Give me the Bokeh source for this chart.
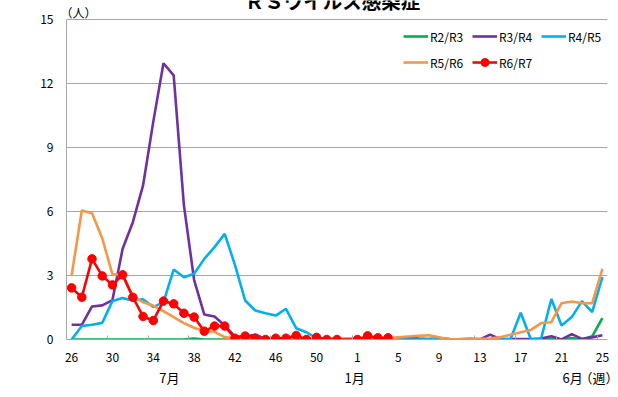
from bokeh.plotting import figure
from bokeh.models import Range1d, FixedTicker, Label, Legend, LegendItem, LinearAxis
from bokeh.embed import file_html
from bokeh.resources import INLINE

# ---- data -------------------------------------------------------------
WEEKS = [26, 27, 28, 29, 30, 31, 32, 33, 34, 35, 36, 37, 38, 39, 40, 41, 42, 43,
         44, 45, 46, 47, 48, 49, 50, 51, 52, 53,
         1, 2, 3, 4, 5, 6, 7, 8, 9, 10, 11, 12, 13, 14, 15, 16, 17, 18, 19, 20,
         21, 22, 23, 24, 25]
LABEL_WEEKS = [26, 30, 34, 38, 42, 46, 50, 1, 5, 9, 13, 17, 21, 25]
Y_TICKS = [0, 3, 6, 9, 12, 15]
MONTH_LABELS = ["7月", "1月", "6月", "（週）"]
N = None

R2_R3 = [0, 0, 0, 0, 0, 0, 0, 0, 0, 0, 0, 0, 0.05, 0, 0, 0, 0, 0,
         0, 0, 0, 0, 0, 0, 0, 0, 0, 0,
         0, 0, 0, 0, 0, 0, 0, 0, 0, 0, 0, 0, 0, 0, 0, 0, 0, 0, 0, 0.03,
         0, 0.07, 0, 0.15, 1.0]
R3_R4 = [0.69, 0.69, 1.55, 1.6, 1.85, 4.25, 5.5, 7.22, 10.2, 12.95, 12.38, 6.3, 2.8, 1.17, 1.08, 0.66, 0.14, 0.15,
         0.22, 0.03, 0.02, 0.02, 0, 0, 0, 0, 0, N,
         0, 0, 0, 0, 0.05, 0.1, 0.05, 0.02, 0.05, 0.02, 0, 0, 0, 0.23, 0.02, 0.02, 0.02, 0.02, 0.05, 0.15,
         0, 0.25, 0.03, 0.1, 0.2]
R4_R5 = [0, 0.63, 0.69, 0.78, 1.8, 1.94, 1.83, 1.88, 1.52, 1.75, 3.28, 2.92, 3.08, 3.78, 4.33, 4.95, 3.5, 1.83,
         1.36, 1.23, 1.12, 1.44, 0.53, 0.34, 0.05, 0.05, 0.03, N,
         0.03, 0.02, 0.02, 0, 0, 0, 0, 0.02, 0.05, 0.02, 0, 0, 0, 0, 0, 0.02, 1.25, 0, 0.05, 1.9,
         0.66, 1.05, 1.8, 1.28, 2.92]
R5_R6 = [3.0, 6.05, 5.92, 4.75, 3.05, 3.05, 2.02, 1.75, 1.59, 1.33, 1.05, 0.77, 0.55, 0.4, 0.36, 0.11, 0.03, 0.03,
         0.03, 0.03, 0.03, 0.03, 0.03, 0.03, 0.03, 0.03, 0.03, N,
         0.03, 0.05, 0.05, 0.06, 0.1, 0.14, 0.17, 0.2, 0.11, 0, 0.02, 0.06, 0.03, 0.05, 0.11, 0.22, 0.34, 0.45, 0.77, 0.81,
         1.7, 1.78, 1.7, 1.7, 3.31]
R6_R7 = [2.42, 1.98, 3.78, 2.98, 2.56, 3.03, 1.98, 1.08, 0.89, 1.8, 1.67, 1.23, 1.05, 0.39, 0.63, 0.63, 0.06, 0.16,
         0.06, 0, 0.06, 0.06, 0.19, 0, 0.1, 0, 0, N,
         0, 0.17, 0.08, 0.08, N, N, N, N, N, N, N, N, N, N, N, N, N, N, N, N,
         N, N, N, N, N]

SERIES = ["R2/R3", "R3/R4", "R4/R5", "R5/R6", "R6/R7"]
COLORS = ["#00B050", "#7030A0", "#00B0F0", "#F79646", "#FF0000"]
VALUES = [R2_R3, R3_R4, R4_R5, R5_R6, R6_R7]

FONT = "Noto Sans CJK JP"
GRID = "#A6A6A6"

# ---- layout constants (page pixels) --------------------------------------
W, H = 618, 397
FL, FR, FB = 66, 11, 339          # frame left, right border, frame bottom
TOP15 = 19                         # page y of the "15" gridline
y_top = Y_TICKS[-1] + TOP15 * Y_TICKS[-1] / (FB - TOP15)   # frame reaches canvas top

# month-label anchor positions on the week axis (layout only)
MONTH_POS = [9.58, 27.73, 49.09, len(WEEKS) - 0.5]

# ---- figure -----------------------------------------------------------
p = figure(width=W, height=H, output_backend="svg", toolbar_location=None,
           x_range=Range1d(-0.5, len(WEEKS) - 0.5), y_range=Range1d(0, y_top),
           min_border_left=FL, min_border_right=FR, min_border_top=0,
           min_border_bottom=H - FB)
p.title.visible = False
p.outline_line_color = None
p.background_fill_color = "white"
p.border_fill_color = "white"

p.xgrid.visible = False
p.ygrid.grid_line_color = GRID
p.ygrid.grid_line_width = 1

pos = {w: i for i, w in enumerate(WEEKS)}
label_pos = [pos[w] for w in LABEL_WEEKS]

p.xaxis.ticker = FixedTicker(ticks=label_pos,
                             minor_ticks=[t - 0.5 for t in label_pos[1:]])
p.xaxis.major_label_overrides = {pos[w]: str(w) for w in LABEL_WEEKS}
p.xaxis.major_tick_in = 0
p.xaxis.major_tick_out = 0
p.xaxis.minor_tick_in = 4
p.xaxis.minor_tick_out = 0
p.xaxis.minor_tick_line_color = GRID
p.xaxis.axis_line_color = GRID
p.xaxis.major_label_standoff = 13

p.yaxis.ticker = FixedTicker(ticks=Y_TICKS)
p.yaxis.bounds = (Y_TICKS[0], Y_TICKS[-1])
p.yaxis.major_tick_in = 0
p.yaxis.major_tick_out = 0
p.yaxis.minor_tick_line_color = None
p.yaxis.axis_line_color = GRID
p.yaxis.major_label_standoff = 13

for ax in (p.xaxis, p.yaxis):
    ax.major_label_text_font = FONT
    ax.major_label_text_font_size = "12px"
    ax.major_label_text_color = "#000000"

# second axis below: month labels and the unit
month_axis = LinearAxis(ticker=FixedTicker(ticks=MONTH_POS),
                        major_label_overrides=dict(zip(MONTH_POS, MONTH_LABELS)),
                        axis_line_color=None, major_tick_in=0, major_tick_out=0,
                        minor_tick_in=0, minor_tick_out=0,
                        major_label_standoff=3,
                        major_label_text_font=FONT,
                        major_label_text_font_size="13px",
                        major_label_text_color="#000000")
p.add_layout(month_axis, "below")

renderers = {}
for name, color, vals in zip(SERIES, COLORS, VALUES):
    xs = [i for i, v in enumerate(vals) if v is not None]
    ys = [v for v in vals if v is not None]
    rs = [p.line(xs, ys, line_color=color, line_width=2.6)]
    if name == "R6/R7":
        rs.append(p.scatter(xs, ys, size=8.5, marker="circle",
                            fill_color=color, line_color=color))
    renderers[name] = rs


def make_legend(names, vy):
    leg = Legend(items=[LegendItem(label=n, renderers=renderers[n]) for n in names],
                 orientation="horizontal", location=(337, vy),
                 padding=0, margin=0, spacing=0,
                 glyph_width=25, glyph_height=20, label_height=20,
                 label_width=42, label_standoff=2,
                 label_text_font=FONT, label_text_font_size="12px",
                 label_text_color="#000000",
                 background_fill_alpha=0, border_line_color=None)
    p.add_layout(leg)


make_legend(SERIES[:3], 293)
make_legend(SERIES[3:], 267)


# ---- annotations inside the frame (screen offsets from frame bottom-left) ----
def lab(text, px, py, size="13px", align="center", baseline="middle", bold=False):
    p.add_layout(Label(x=px - FL, y=FB - py, x_units="screen", y_units="screen",
                       text=text, text_font=FONT, text_font_size=size,
                       text_align=align, text_baseline=baseline,
                       text_color="#000000",
                       text_font_style="bold" if bold else "normal"))


lab("ＲＳウイルス感染症", 332, 14, size="19.5px", baseline="bottom", bold=True)
lab("（人）", 78, 12, size="12px")

open("out.html", "w").write(file_html(p, INLINE))
